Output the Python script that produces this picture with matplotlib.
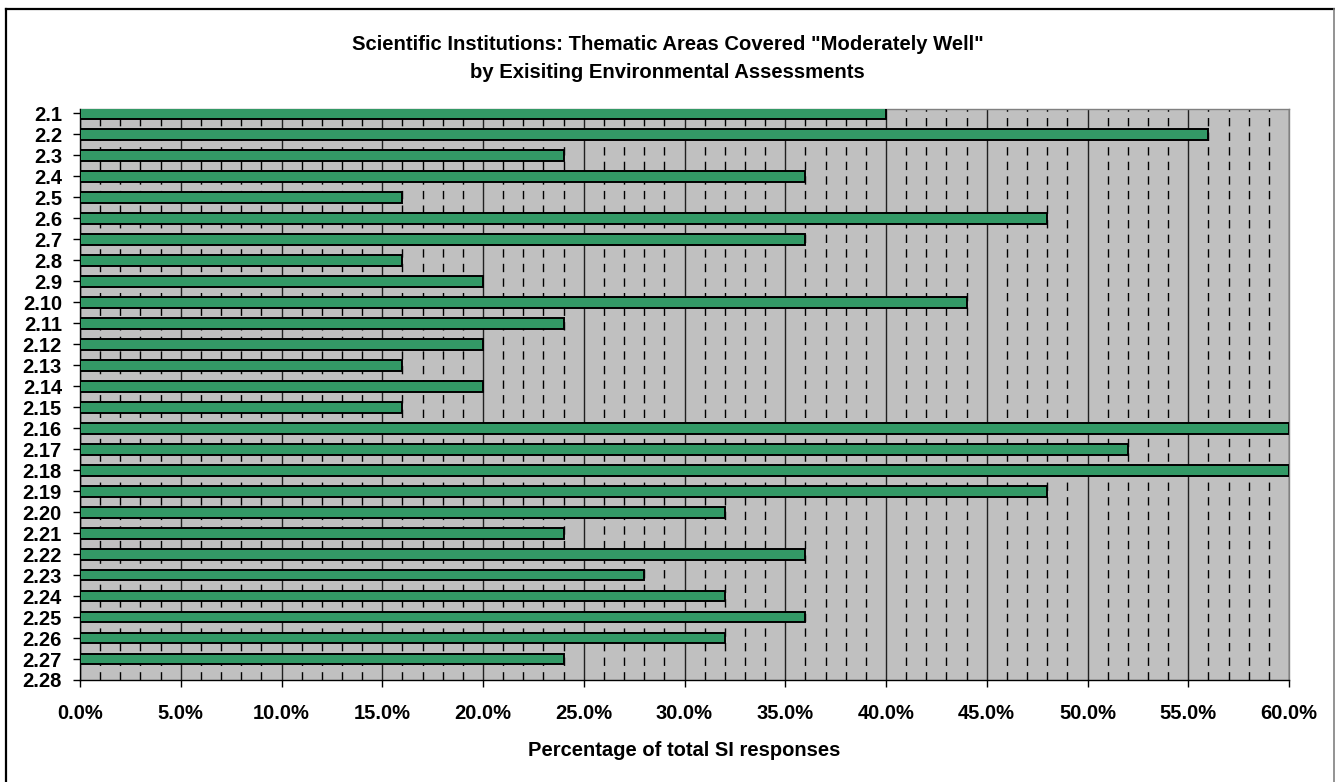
import matplotlib
matplotlib.use("Agg")
import matplotlib.pyplot as plt
from matplotlib.ticker import MultipleLocator, FuncFormatter
from matplotlib.lines import Line2D

categories = ["2.1", "2.2", "2.3", "2.4", "2.5", "2.6", "2.7", "2.8", "2.9", "2.10",
              "2.11", "2.12", "2.13", "2.14", "2.15", "2.16", "2.17", "2.18", "2.19", "2.20",
              "2.21", "2.22", "2.23", "2.24", "2.25", "2.26", "2.27", "2.28"]
percent_values = [40, 56, 24, 36, 16, 48, 36, 16, 20, 44,
                  24, 20, 16, 20, 16, 60, 52, 60, 48, 32,
                  24, 36, 28, 32, 36, 32, 24, 0]

title_text = 'Scientific Institutions: Thematic Areas Covered "Moderately Well"\nby Exisiting Environmental Assessments'
xlabel_text = "Percentage of total SI responses"

plt.rcParams["font.family"] = ["Liberation Sans", "DejaVu Sans"]
plt.rcParams["font.weight"] = "bold"
plt.rcParams["lines.scale_dashes"] = False

W, H, DPI = 1335, 782, 100
fig = plt.figure(figsize=(W / DPI, H / DPI), dpi=DPI)
fig.patch.set_facecolor("white")

left, right, top, bottom = 80, 1289, 109, 680
ax = fig.add_axes([left / W, 1 - bottom / H, (right - left) / W, (bottom - top) / H])
ax.set_facecolor("#C0C0C0")

ypos = list(range(len(categories)))
ax.barh(ypos, percent_values, height=0.52, color="#339966",
        edgecolor="black", linewidth=1.4, zorder=3)

ax.set_xlim(0, 60)
ax.set_ylim(len(categories) - 1, -0.2)

ax.xaxis.set_major_locator(MultipleLocator(5))
ax.xaxis.set_minor_locator(MultipleLocator(1))
ax.xaxis.set_major_formatter(FuncFormatter(lambda v, p: f"{v:.1f}%"))
ax.set_yticks(ypos)
ax.set_yticklabels(categories)

ax.grid(axis="x", which="major", color="#202020", linewidth=1.0, linestyle="-", zorder=1)
ax.grid(axis="x", which="minor", color="black", linewidth=1.0,
        linestyle=(0, (6.0, 4.5)), zorder=1)
ax.set_axisbelow(True)

ax.tick_params(axis="x", which="major", direction="out", length=5, width=1,
               pad=12, labelsize=14.5, colors="black")
ax.tick_params(axis="x", which="minor", length=0)
ax.tick_params(axis="y", which="major", direction="out", length=5, width=1,
               pad=8, labelsize=14.5, colors="black")
for lab in ax.get_xticklabels() + ax.get_yticklabels():
    lab.set_fontweight("bold")

for side in ("left", "bottom"):
    ax.spines[side].set_color("black")
    ax.spines[side].set_linewidth(1.0)
for side in ("top", "right"):
    ax.spines[side].set_color("#808080")
    ax.spines[side].set_linewidth(1.0)

ax.set_xlabel(xlabel_text, fontsize=14.5, fontweight="bold", labelpad=13)

fig.text(0.5, 1 - 58.5 / H, title_text, ha="center", va="center",
         fontsize=14.6, fontweight="bold", linespacing=1.6)

# outer chart frame
fig.add_artist(Line2D([6 / W, 1334 / W], [1 - 9 / H, 1 - 9 / H], transform=fig.transFigure,
                      color="black", linewidth=1.6))
fig.add_artist(Line2D([6 / W, 6 / W], [1 - 9 / H, 0], transform=fig.transFigure,
                      color="black", linewidth=1.6))
fig.add_artist(Line2D([1334 / W, 1334 / W], [1 - 9 / H, 0], transform=fig.transFigure,
                      color="#808080", linewidth=1.2))

fig.savefig("out.png", dpi=DPI)
